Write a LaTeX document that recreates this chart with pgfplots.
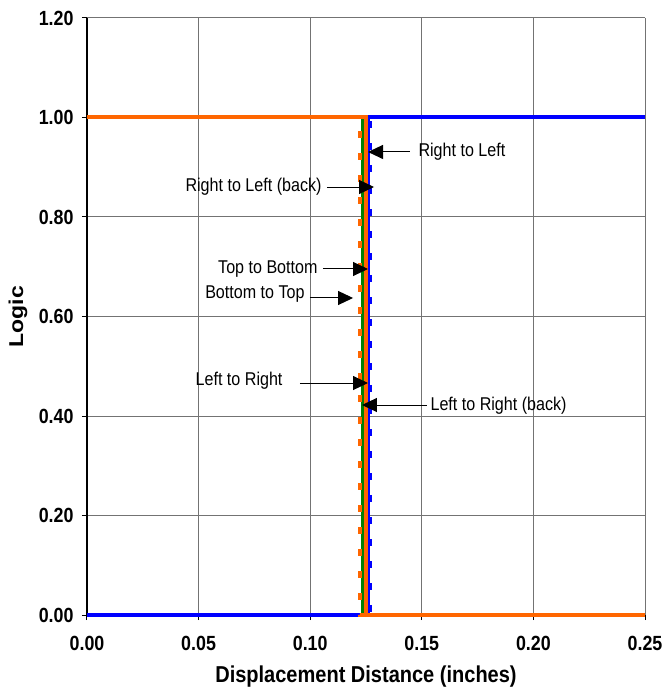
\documentclass[border=0pt]{standalone}
\usepackage{pgfplots}
\pgfplotsset{compat=1.18}
\usepackage{fontspec}
\setmainfont{Liberation Sans}[FakeStretch=0.87]
\newfontfamily\plainsans{Liberation Sans}
\usetikzlibrary{arrows.meta}
\definecolor{xlblue}{RGB}{0,0,255}
\definecolor{xlorange}{RGB}{255,102,0}
\definecolor{xlgreen}{RGB}{0,128,0}
\begin{document}
\begin{tikzpicture}
\path[use as bounding box] (-87pt,-74pt) rectangle (577pt,615pt);
\begin{axis}[
  scale only axis,
  width=558pt, height=597pt,
  xmin=0, xmax=0.25, ymin=0, ymax=1.2,
  xtick={0,0.05,...,0.25},
  ytick={0,0.2,...,1.2},
  axis lines*=left,
  axis line style={-, black, line width=1.2pt},
  grid=major,
  major grid style={black!55, line width=1pt},
  tick align=outside,
  major tick length=5pt,
  tick style={black, line width=1pt},
  ticklabel style={font=\fontsize{20.5}{24}\selectfont\bfseries},
  xticklabel style={yshift=-13pt},
  yticklabel style={xshift=-5pt},
  /pgf/number format/.cd, fixed, fixed zerofill, precision=2, assume math mode=true,
  /pgfplots/.cd,
  xlabel={\bfseries Displacement Distance (inches)},
  ylabel={\scalebox{1}[0.87]{\plainsans\bfseries Logic}},
  xlabel style={font=\fontsize{23}{27}\selectfont, at={(axis description cs:0.5,-0.1035)}, anchor=center},
  ylabel style={font=\fontsize{23}{27}\selectfont, at={(axis description cs:-0.1237,0.5)}, anchor=center},
  clip=false,
]
% blue dashed
\addplot[xlblue, line width=4pt, dash pattern=on 7pt off 15pt] coordinates {(0,0) (0.1268,0) (0.1268,1) (0.25,1)};
% blue solid
\addplot[xlblue, line width=4pt] coordinates {(0,0) (0.1260,0) (0.1260,1) (0.25,1)};
% green solid
\addplot[xlgreen, line width=2.2pt] coordinates {(0,1) (0.1234,1) (0.1234,0) (0.25,0)};
% orange solid
\addplot[xlorange, line width=4pt] coordinates {(0,1) (0.1249,1) (0.1249,0) (0.25,0)};
% orange dashed
\addplot[xlorange, line width=3.5pt, dash pattern=on 7pt off 15pt] coordinates {(0,1) (0.1222,1) (0.1222,0) (0.25,0)};

\begin{scope}[font=\fontsize{18.5}{22}\selectfont, line width=1pt, -{Triangle[length=15pt,width=14pt]}]
\draw (axis cs:0.1447,0.9307) -- (axis cs:0.1259,0.9307);
\node[anchor=west, inner sep=0pt] at (axis cs:0.1483,0.9307) {Right to Left};
\draw (axis cs:0.1075,0.8603) -- (axis cs:0.1286,0.8603);
\node[anchor=east, inner sep=0pt] at (axis cs:0.1053,0.8603) {Right to Left (back)};
\draw (axis cs:0.1057,0.6955) -- (axis cs:0.1259,0.6955);
\node[anchor=east, inner sep=0pt] at (axis cs:0.1035,0.6955) {Top to Bottom};
\draw (axis cs:0.0999,0.6372) -- (axis cs:0.1192,0.6372);
\node[anchor=east, inner sep=0pt] at (axis cs:0.0977,0.6452) {Bottom to Top};
\draw (axis cs:0.0954,0.4663) -- (axis cs:0.1259,0.4663);
\node[anchor=east, inner sep=0pt] at (axis cs:0.0878,0.4703) {Left to Right};
\draw (axis cs:0.1523,0.4221) -- (axis cs:0.1232,0.4221);
\node[anchor=west, inner sep=0pt] at (axis cs:0.1537,0.4201) {Left to Right (back)};
\end{scope}
\end{axis}
\end{tikzpicture}
\end{document}
